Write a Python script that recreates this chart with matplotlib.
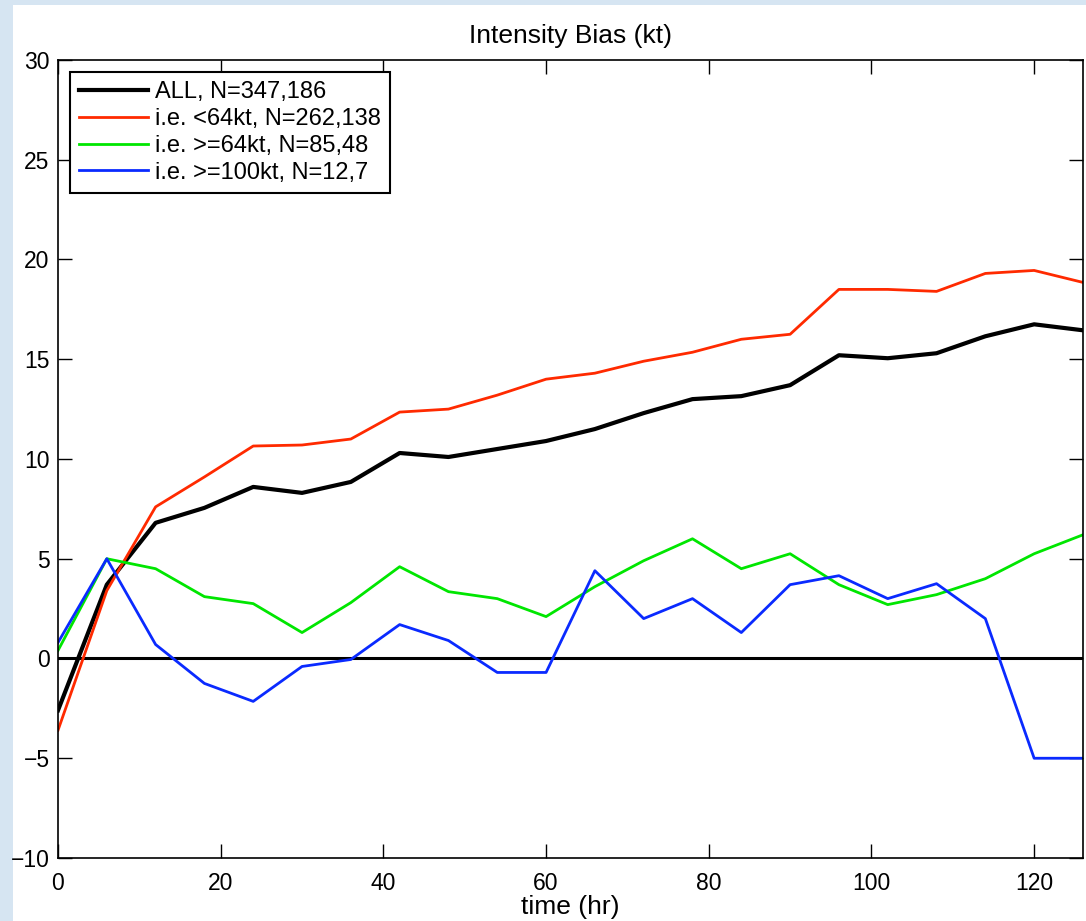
import matplotlib
matplotlib.use("Agg")
import matplotlib.pyplot as plt
from matplotlib.patches import Rectangle

plt.rcParams['font.family'] = ['Liberation Sans', 'DejaVu Sans']

hours = [0, 6, 12, 18, 24, 30, 36, 42, 48, 54, 60, 66, 72, 78, 84, 90, 96, 102, 108, 114, 120, 126]

bias_all = [-2.6, 3.7, 6.8, 7.55, 8.6, 8.3, 8.85, 10.3, 10.1, 10.5, 10.9, 11.5,
            12.3, 13.0, 13.15, 13.7, 15.2, 15.05, 15.3, 16.15, 16.75, 16.45]
bias_lt64 = [-3.6, 3.4, 7.6, 9.1, 10.65, 10.7, 11.0, 12.35, 12.5, 13.2, 14.0, 14.3,
             14.9, 15.35, 16.0, 16.25, 18.5, 18.5, 18.4, 19.3, 19.45, 18.85]
bias_ge64 = [0.4, 5.0, 4.5, 3.1, 2.75, 1.3, 2.8, 4.6, 3.35, 3.0, 2.1, 3.6,
             4.9, 6.0, 4.5, 5.25, 3.7, 2.7, 3.2, 4.0, 5.25, 6.2]
bias_ge100 = [0.8, 5.0, 0.7, -1.25, -2.15, -0.4, -0.05, 1.7, 0.9, -0.7, -0.7, 4.4,
              2.0, 3.0, 1.3, 3.7, 4.15, 3.0, 3.75, 2.0, -5.0, -5.0]

labels = ["ALL, N=347,186", "i.e. <64kt, N=262,138",
          "i.e. >=64kt, N=85,48", "i.e. >=100kt, N=12,7"]

fig = plt.figure(figsize=(10.86, 9.21), dpi=100, facecolor="#d6e5f2")
# white panel behind the plot, leaving a blue strip on left and top
fig.patches.append(Rectangle((13 / 1086, 0), 1, 1 - 5 / 921, transform=fig.transFigure,
                             facecolor="white", edgecolor="none", zorder=-10))

ax = fig.add_axes([0.0534, 0.0684, 0.9438, 0.8665])

ax.plot(hours, bias_all, color="black", lw=3.0, label=labels[0])
ax.plot(hours, bias_lt64, color="#ff2a00", lw=2.0, label=labels[1])
ax.plot(hours, bias_ge64, color="#00e600", lw=2.0, label=labels[2])
ax.plot(hours, bias_ge100, color="#0a2aff", lw=2.0, label=labels[3])
ax.axhline(0, color="black", lw=2.2, zorder=1)

ax.set_xlim(0, 126)
ax.set_ylim(-10, 30)
ax.set_xticks([0, 20, 40, 60, 80, 100, 120])
ax.set_yticks([-10, -5, 0, 5, 10, 15, 20, 25, 30])
ax.set_yticklabels(["\u221210", "\u22125", "0", "5", "10", "15", "20", "25", "30"])
ax.tick_params(direction="in", length=10, width=1, top=True, right=True, labelsize=16.5)
ax.tick_params(axis="x", pad=10)
ax.tick_params(axis="y", pad=6)
for s in ax.spines.values():
    s.set_linewidth(1.2)

ax.set_title("Intensity Bias (kt)", fontsize=19, pad=12)
ax.set_xlabel("time (hr)", fontsize=19, labelpad=0)

leg = ax.legend(loc="upper left", bbox_to_anchor=(0.0117, 0.985), borderaxespad=0,
                fontsize=17, fancybox=False, framealpha=1, edgecolor="black",
                handlelength=2.9, handletextpad=0.3, labelspacing=0.2, borderpad=0.4)
leg.get_frame().set_linewidth(1.5)

fig.savefig("out.png", dpi=100, facecolor=fig.get_facecolor())
